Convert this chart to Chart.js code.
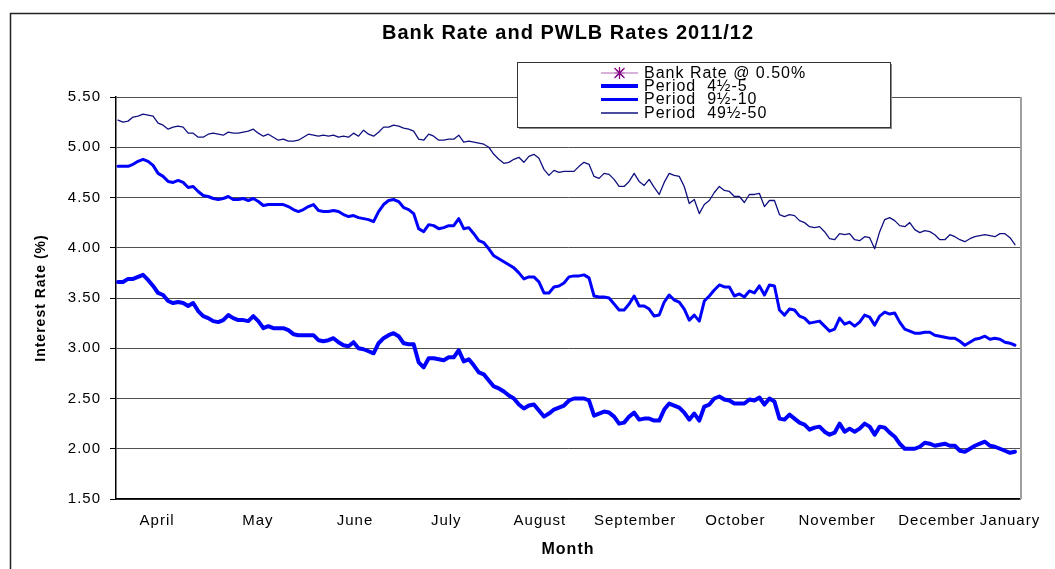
<!DOCTYPE html>
<html>
<head>
<meta charset="utf-8">
<script src="https://cdn.jsdelivr.net/npm/chart.js@4"></script>
<style>
html,body{margin:0;padding:0;background:#fff;}
canvas{display:block;}
</style>
</head>
<body>
<canvas id="c" width="1055" height="569"></canvas>
<script>
// ---- data ----
const chartTitle = 'Bank Rate and PWLB Rates 2011/12';
const seriesNames = ['Bank Rate @ 0.50%', 'Period  4\u00BD-5', 'Period  9\u00BD-10', 'Period  49\u00BD-50'];
const monthLabels = ['April','May','June','July','August','September','October','November','December','January'];
const monthPos = [7.8, 27.9, 47.3, 65.5, 84.2, 103.2, 123.2, 143.5, 163.4, 178.0];
const yTickValues = [1.5, 2.0, 2.5, 3.0, 3.5, 4.0, 4.5, 5.0, 5.5];

const period49 = [
5.27,5.25,5.26,5.30,5.31,5.33,5.32,5.31,5.24,5.22,
5.18,5.20,5.21,5.20,5.14,5.14,5.10,5.10,5.13,5.14,
5.13,5.12,5.15,5.14,5.14,5.15,5.16,5.18,5.14,5.11,
5.13,5.10,5.07,5.08,5.06,5.06,5.07,5.10,5.13,5.12,
5.11,5.12,5.11,5.12,5.10,5.11,5.10,5.14,5.11,5.17,
5.13,5.11,5.15,5.20,5.20,5.22,5.21,5.19,5.18,5.16,
5.08,5.07,5.13,5.11,5.07,5.07,5.08,5.08,5.12,5.05,
5.06,5.05,5.04,5.03,5.00,4.93,4.88,4.84,4.85,4.88,
4.90,4.85,4.91,4.93,4.89,4.78,4.72,4.77,4.75,4.76,
4.76,4.76,4.81,4.85,4.83,4.71,4.69,4.74,4.73,4.68,
4.61,4.61,4.66,4.74,4.66,4.62,4.68,4.60,4.53,4.65,
4.74,4.72,4.71,4.61,4.44,4.48,4.34,4.43,4.47,4.55,
4.61,4.57,4.56,4.51,4.51,4.45,4.53,4.53,4.54,4.41,
4.47,4.47,4.33,4.31,4.33,4.32,4.27,4.25,4.21,4.20,
4.21,4.16,4.09,4.08,4.14,4.13,4.14,4.08,4.07,4.11,
4.10,3.99,4.16,4.28,4.30,4.27,4.22,4.21,4.25,4.18,
4.15,4.17,4.16,4.13,4.08,4.08,4.13,4.11,4.08,4.06,
4.09,4.11,4.12,4.13,4.12,4.11,4.14,4.14,4.10,4.03
];
const period9 = [
4.81,4.81,4.81,4.83,4.86,4.88,4.86,4.82,4.74,4.71,
4.66,4.65,4.67,4.65,4.60,4.61,4.56,4.52,4.51,4.49,
4.48,4.49,4.51,4.48,4.48,4.49,4.47,4.49,4.46,4.42,
4.43,4.43,4.43,4.43,4.41,4.38,4.36,4.38,4.41,4.43,
4.37,4.36,4.36,4.37,4.36,4.33,4.31,4.32,4.30,4.29,
4.28,4.26,4.36,4.43,4.47,4.48,4.46,4.40,4.38,4.34,
4.19,4.16,4.23,4.22,4.19,4.20,4.22,4.22,4.29,4.19,
4.20,4.14,4.07,4.05,3.99,3.92,3.89,3.86,3.83,3.80,
3.75,3.69,3.71,3.71,3.66,3.55,3.55,3.61,3.62,3.65,
3.71,3.72,3.72,3.73,3.70,3.52,3.51,3.51,3.50,3.44,
3.38,3.38,3.44,3.52,3.42,3.42,3.39,3.32,3.33,3.46,
3.53,3.48,3.46,3.39,3.28,3.33,3.27,3.47,3.52,3.58,
3.63,3.61,3.61,3.52,3.54,3.51,3.57,3.55,3.62,3.53,
3.63,3.62,3.38,3.33,3.39,3.38,3.32,3.30,3.25,3.26,
3.27,3.22,3.17,3.19,3.30,3.24,3.26,3.22,3.26,3.33,
3.31,3.23,3.32,3.36,3.34,3.35,3.26,3.19,3.17,3.15,
3.15,3.16,3.16,3.13,3.12,3.11,3.10,3.10,3.07,3.03,
3.06,3.09,3.10,3.12,3.09,3.10,3.09,3.06,3.05,3.03
];
const period4 = [
3.66,3.66,3.69,3.69,3.71,3.73,3.68,3.62,3.55,3.53,
3.47,3.45,3.46,3.45,3.42,3.45,3.37,3.32,3.30,3.27,
3.26,3.28,3.33,3.30,3.28,3.28,3.27,3.32,3.27,3.20,
3.22,3.20,3.20,3.20,3.18,3.14,3.13,3.13,3.13,3.13,
3.08,3.07,3.08,3.10,3.06,3.03,3.02,3.06,3.00,2.99,
2.97,2.95,3.05,3.10,3.13,3.15,3.12,3.05,3.04,3.04,
2.86,2.81,2.90,2.90,2.89,2.88,2.91,2.91,2.98,2.87,
2.89,2.83,2.76,2.74,2.68,2.62,2.60,2.57,2.53,2.50,
2.44,2.40,2.43,2.44,2.38,2.32,2.35,2.39,2.41,2.43,
2.48,2.50,2.50,2.50,2.48,2.33,2.35,2.37,2.36,2.32,
2.25,2.26,2.32,2.36,2.29,2.30,2.30,2.28,2.28,2.39,
2.45,2.43,2.41,2.36,2.29,2.35,2.28,2.42,2.44,2.50,
2.52,2.49,2.48,2.45,2.45,2.45,2.49,2.48,2.51,2.44,
2.50,2.47,2.30,2.29,2.34,2.30,2.26,2.24,2.19,2.21,
2.22,2.17,2.14,2.16,2.25,2.17,2.20,2.17,2.20,2.25,
2.22,2.14,2.22,2.21,2.16,2.12,2.05,2.00,2.00,2.00,
2.02,2.06,2.05,2.03,2.04,2.05,2.03,2.03,1.98,1.97,
2.00,2.03,2.05,2.07,2.03,2.02,2.00,1.98,1.96,1.97
];
const bankRateValue = 0.50;
const bankRate = period4.map(() => bankRateValue);

// ---- chart ----
Chart.defaults.font.family = "'Liberation Sans', Arial, sans-serif";
Chart.defaults.color = '#000';

const toXY = arr => arr.map((v, i) => ({x: i, y: v}));

const decor = {
  id: 'decor',
  beforeUpdate(chart) { chart.ctx.letterSpacing = '1px'; },
  beforeDraw(chart) {
    const ctx = chart.ctx;
    ctx.save();
    ctx.fillStyle = '#fff';
    ctx.fillRect(0, 0, chart.width, chart.height);
    ctx.strokeStyle = '#222';
    ctx.lineWidth = 1.5;
    ctx.beginPath();
    ctx.moveTo(10.5, chart.height + 5);
    ctx.lineTo(10.5, 13.5);
    ctx.lineTo(chart.width + 5, 13.5);
    ctx.stroke();
    ctx.restore();
    ctx.letterSpacing = '1px';
  },
  beforeDatasetsDraw(chart) {
    const ctx = chart.ctx, a = chart.chartArea;
    ctx.save();
    ctx.strokeStyle = '#a0a0a0';
    ctx.lineWidth = 2;
    ctx.beginPath();
    ctx.moveTo(a.right + 1, a.top);
    ctx.lineTo(a.right + 1, a.bottom);
    ctx.stroke();
    ctx.restore();
  },
  afterDraw(chart) {
    const ctx = chart.ctx;
    const bx = 517, by = 62, bw = 373, bh = 65;
    ctx.save();
    ctx.fillStyle = '#8a8a8a';
    ctx.fillRect(bx + 2, by + 2, bw, bh);
    ctx.fillStyle = '#fff';
    ctx.fillRect(bx, by, bw, bh);
    ctx.strokeStyle = '#333';
    ctx.lineWidth = 1;
    ctx.strokeRect(bx + 0.5, by + 0.5, bw, bh);
    const rows = [73, 86, 99.5, 113];
    ctx.letterSpacing = '1px';
    ctx.font = "16px 'Liberation Sans', Arial, sans-serif";
    ctx.textBaseline = 'middle';
    ctx.textAlign = 'left';
    chart.data.datasets.forEach((ds, k) => {
      const yy = rows[k];
      ctx.strokeStyle = ds.borderColor;
      ctx.lineWidth = ds.borderWidth;
      ctx.beginPath();
      ctx.moveTo(601, yy);
      ctx.lineTo(638, yy);
      ctx.stroke();
      if (ds.legendMarker) {
        Chart.helpers.drawPoint(ctx, {pointStyle: 'star', radius: 5, borderWidth: 1.2, rotation: 0}, 619.5, yy);
        ctx.strokeStyle = ds.pointBorderColor;
        ctx.lineWidth = 1.2;
        ctx.beginPath();
        ctx.moveTo(614.5, yy - 5); ctx.lineTo(624.5, yy + 5);
        ctx.moveTo(624.5, yy - 5); ctx.lineTo(614.5, yy + 5);
        ctx.moveTo(619.5, yy - 6); ctx.lineTo(619.5, yy + 6);
        ctx.stroke();
      }
      ctx.fillStyle = '#000';
      ctx.fillText(ds.label, 644, yy + 0.5);
    });
    ctx.restore();
  }
};

new Chart(document.getElementById('c'), {
  type: 'line',
  data: {
    datasets: [
      {label: seriesNames[0], data: toXY(bankRate), borderColor: '#b266b2', pointBorderColor: '#800080', borderWidth: 1.2, pointRadius: 0, legendMarker: true},
      {label: seriesNames[1], data: toXY(period4), borderColor: '#0000ff', borderWidth: 4, pointRadius: 0},
      {label: seriesNames[2], data: toXY(period9), borderColor: '#0000ff', borderWidth: 3, pointRadius: 0},
      {label: seriesNames[3], data: toXY(period49), borderColor: '#101080', borderWidth: 1.3, pointRadius: 0}
    ]
  },
  options: {
    responsive: false,
    animation: false,
    events: [],
    layout: {padding: {left: 10, right: 35, top: 14, bottom: 0}},
    elements: {line: {tension: 0, borderJoinStyle: 'round', borderCapStyle: 'round'}},
    plugins: {
      legend: {display: false},
      tooltip: {enabled: false},
      title: {
        display: true, text: chartTitle, fullSize: false, color: '#000',
        font: {size: 20, weight: 'bold'}, padding: {top: 7, bottom: 52}
      }
    },
    scales: {
      x: {
        type: 'linear', min: -0.4, max: 180, bounds: 'data',
        afterBuildTicks: s => { s.ticks = monthPos.map(v => ({value: v})); },
        ticks: {autoSkip: false, maxRotation: 0, minRotation: 0, padding: 13, color: '#000', font: {size: 15},
          callback: (v, i) => monthLabels[i]},
        grid: {display: false, drawTicks: false},
        border: {display: true, color: '#000', width: 1.5},
        title: {display: true, text: 'Month', color: '#000', font: {size: 16, weight: 'bold'}, padding: {top: 0, bottom: 10}},
        afterFit: s => { s.height = 70; }
      },
      y: {
        min: yTickValues[0], max: yTickValues[yTickValues.length - 1],
        afterBuildTicks: s => { s.ticks = yTickValues.map(v => ({value: v})); },
        ticks: {padding: 9, color: '#000', font: {size: 15}, callback: v => Number(v).toFixed(2)},
        grid: {color: '#505050', lineWidth: 1, tickLength: 6, tickColor: '#000', drawTicks: true},
        border: {color: '#000', width: 1.5},
        title: {display: true, text: 'Interest Rate (%)', color: '#000', font: {size: 14, weight: 'bold'}, padding: {top: 23, bottom: 0}},
        afterFit: s => { s.width = 106; }
      }
    }
  },
  plugins: [decor]
});
</script>
</body>
</html>
